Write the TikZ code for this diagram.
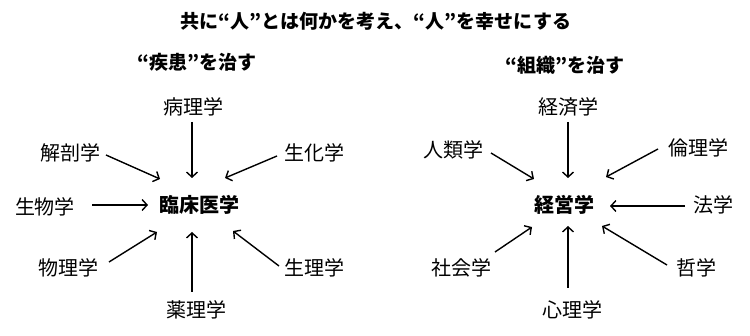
\documentclass[tikz,border=0pt]{standalone}
\usepackage{fontspec}
\setmainfont{Noto Sans CJK JP}
\usetikzlibrary{arrows.meta}
\tikzset{
  lbl/.style={inner sep=0pt, font=\fontsize{20}{20}\selectfont},
  hub/.style={inner sep=0pt, font=\bfseries\fontsize{20}{20}\selectfont},
  ttl/.style={inner sep=0pt, font=\bfseries\fontsize{19}{19}\selectfont},
  sub/.style={inner sep=0pt, font=\bfseries\fontsize{19}{19}\selectfont},
  arr/.style={line width=1.4pt, -{Straight Barb[length=5pt,width=11pt]}}
}
\begin{document}
\begin{tikzpicture}[x=1pt,y=-1pt]
\useasboundingbox[fill=white] (0,0) rectangle (750,336);
\node[ttl] (title) at (376,21) {共に“人”とは何かを考え、“人”を幸せにする};
\node[sub] (subL) at (197,62) {“疾患”を治す};
\node[sub] (subR) at (565,65) {“組織”を治す};
% left
\node[hub] (C1) at (199,205) {臨床医学};
\node[lbl] (byouri) at (193,107) {病理学};
\node[lbl] (kaibou) at (70,153) {解剖学};
\node[lbl] (seika) at (314,153) {生化学};
\node[lbl] (seibutsu) at (45,207) {生物学};
\node[lbl] (butsuri) at (68,268) {物理学};
\node[lbl] (seiri) at (314,268) {生理学};
\node[lbl] (yakuri) at (196,310) {薬理学};
\draw[arr] ([shift={(-1,15)}]byouri.center) -- ([shift={(-7,-27)}]C1.center);
\draw[arr] ([shift={(36,2)}]kaibou.center) -- ([shift={(-39,-26)}]C1.center);
\draw[arr] ([shift={(-37,3)}]seika.center) -- ([shift={(26,-27)}]C1.center);
\draw[arr] ([shift={(47,-2)}]seibutsu.center) -- ([shift={(-51,0)}]C1.center);
\draw[arr] ([shift={(41,-6)}]butsuri.center) -- ([shift={(-42,27)}]C1.center);
\draw[arr] ([shift={(-35,-2)}]seiri.center) -- ([shift={(34,26)}]C1.center);
\draw[arr] ([shift={(-4,-18)}]yakuri.center) -- ([shift={(-7,27)}]C1.center);
% right
\node[hub] (C2) at (564,205) {経営学};
\node[lbl] (keizai) at (568,107) {経済学};
\node[lbl] (jinrui) at (453,150) {人類学};
\node[lbl] (rinri) at (698,148) {倫理学};
\node[lbl] (hou) at (713,205) {法学};
\node[lbl] (shakai) at (461,268) {社会学};
\node[lbl] (shinri) at (572,310) {心理学};
\node[lbl] (tetsu) at (696,268) {哲学};
\draw[arr] ([shift={(0,15)}]keizai.center) -- ([shift={(4,-27)}]C2.center);
\draw[arr] ([shift={(38,3)}]jinrui.center) -- ([shift={(-30,-26)}]C2.center);
\draw[arr] ([shift={(-40,1)}]rinri.center) -- ([shift={(42,-28)}]C2.center);
\draw[arr] ([shift={(-28,1)}]hou.center) -- ([shift={(46,1)}]C2.center);
\draw[arr] ([shift={(34,-16)}]shakai.center) -- ([shift={(-32,22)}]C2.center);
\draw[arr] ([shift={(-4,-22)}]shinri.center) -- ([shift={(4,21)}]C2.center);
\draw[arr] ([shift={(-29,-3)}]tetsu.center) -- ([shift={(38,21)}]C2.center);
\end{tikzpicture}
\end{document}
